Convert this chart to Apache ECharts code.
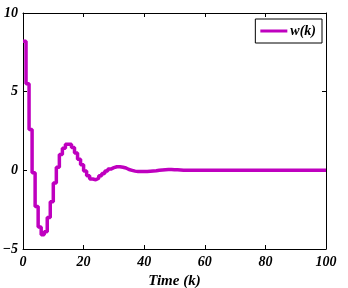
<!DOCTYPE html>
<html>
<head>
<meta charset="utf-8">
<script src="https://cdn.jsdelivr.net/npm/echarts@6/dist/echarts.min.js"></script>
<style>
  html, body { margin: 0; padding: 0; background: #fff; }
  #chart { width: 348px; height: 288px; }
</style>
</head>
<body>
<div id="chart"></div>
<script>
// w(k) for k = 0..100
const wValues = [
  8.2, 5.5, 2.6, -0.15, -2.3, -3.6, -4.1, -3.9, -3.0, -2.0,
  -0.8, 0.2, 1.0, 1.4, 1.65, 1.65, 1.45, 1.1, 0.7, 0.35,
  -0.05, -0.35, -0.55, -0.6, -0.5, -0.35, -0.2, -0.05, 0.08, 0.17,
  0.23, 0.23, 0.2, 0.15, 0.05, 0.0, -0.05, -0.08, -0.08, -0.08,
  -0.08, -0.06, -0.04, -0.03, 0.0, 0.02, 0.04, 0.05, 0.05, 0.04,
  0.03, 0.02, 0.01, 0, 0, 0, 0, 0, 0, 0,
  0, 0, 0, 0, 0, 0, 0, 0, 0, 0,
  0, 0, 0, 0, 0, 0, 0, 0, 0, 0,
  0, 0, 0, 0, 0, 0, 0, 0, 0, 0,
  0, 0, 0, 0, 0, 0, 0, 0, 0, 0,
  0
]
const xTicks = { min: 0, max: 100, interval: 20 }
const yTicks = { min: -5, max: 10, interval: 5 }
const seriesName = 'w(k)'
const xName = 'Time (k)'

const labelFont = {
  fontFamily: 'Liberation Serif',
  fontStyle: 'italic',
  fontWeight: 'bold',
  fontSize: 14,
  color: '#000'
}

function makeAxis(base, pos, showLabel) {
  return Object.assign({
    type: 'value',
    position: pos,
    axisLine: { show: true, onZero: false, lineStyle: { color: '#000', width: 1 } },
    axisTick: { show: true, inside: true, length: 4, lineStyle: { color: '#000' } },
    splitLine: { show: false },
    axisLabel: Object.assign({
      show: showLabel,
      formatter: v => String(v).replace('-', '\u2212')
    }, labelFont)
  }, base)
}

let data = []
for (let i = 0; i < wValues.length; i++) {
  data.push([i, wValues[i]])
}

let option = {
  animation: false,
  grid: { left: 23, right: 22, top: 13, bottom: 39, outerBoundsMode: 'none', containLabel: false },
  legend: {
    right: 26,
    top: 19,
    orient: 'horizontal',
    data: [{ name: seriesName, icon: 'rect' }],
    itemWidth: 27,
    itemHeight: 3,
    itemGap: 4,
    padding: [5, 6, 5, 5],
    borderColor: '#000',
    borderWidth: 1,
    backgroundColor: '#fff',
    textStyle: Object.assign({}, labelFont, { fontSize: 14, padding: [0, 0, 0, -2] })
  },
  xAxis: [
    makeAxis(Object.assign({
      name: xName,
      nameLocation: 'middle',
      nameGap: 20,
      nameTextStyle: Object.assign({}, labelFont, { fontSize: 15 }),
      axisLabel: Object.assign({ margin: 6 }, labelFont)
    }, xTicks), 'bottom', true),
    makeAxis(Object.assign({}, xTicks), 'top', false)
  ],
  yAxis: [
    makeAxis(Object.assign({}, yTicks), 'left', true),
    makeAxis(Object.assign({}, yTicks), 'right', false)
  ],
  series: [{
    name: seriesName,
    type: 'line',
    step: 'end',
    showSymbol: false,
    symbol: 'none',
    xAxisIndex: 0,
    yAxisIndex: 0,
    data: data,
    lineStyle: { color: '#bf00bf', width: 3.5 },
    itemStyle: { color: '#bf00bf' }
  }]
}
option.yAxis[0].axisLabel.margin = 5
option.yAxis[0].axisLabel.formatter = v => String(v).replace('-', '\u2212')
option.xAxis[0].axisLabel.formatter = v => String(v)

let myChart = echarts.init(document.getElementById('chart'), null, { renderer: 'canvas' })
myChart.setOption(option)
</script>
</body>
</html>
